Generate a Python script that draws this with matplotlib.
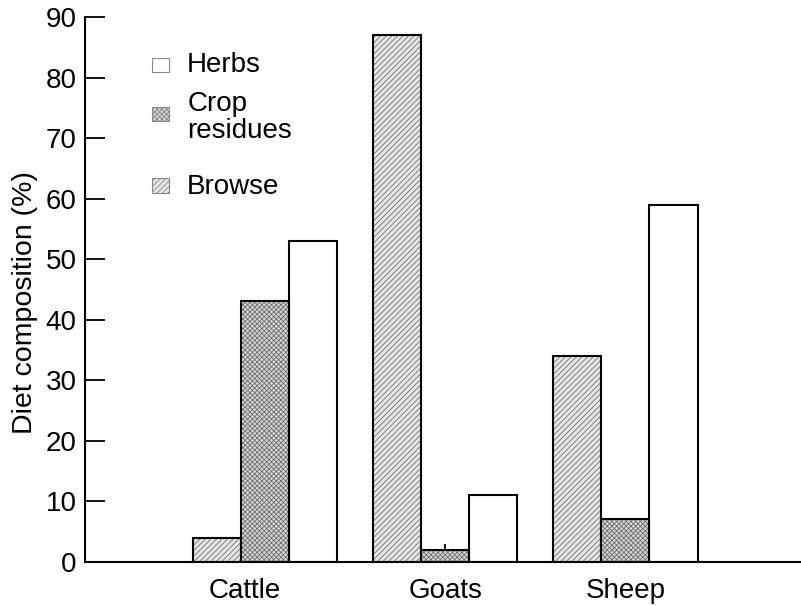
import matplotlib
matplotlib.use("Agg")
import matplotlib.pyplot as plt
import numpy as np
from matplotlib.patches import Rectangle
from matplotlib.transforms import ScaledTranslation

plt.rcParams["font.family"] = ["Liberation Sans", "DejaVu Sans"]
plt.rcParams["hatch.linewidth"] = 0.6
plt.rcParams["hatch.color"] = "#707070"

animals = ["Cattle", "Goats", "Sheep"]
browse = [4, 87, 34]
crop_residues = [43, 2, 7]
herbs = [53, 11, 59]
y_ticks = [0, 10, 20, 30, 40, 50, 60, 70, 80, 90]

fig = plt.figure(figsize=(8.01, 6.06), dpi=100)
ax = fig.add_axes([0.106, 0.073, 0.893, 0.899])

x = np.arange(1, len(animals) + 1)
w = 0.267

styles = {
    "Browse": dict(facecolor="#e6e6e6", hatch="//////"),
    "Crop residues": dict(facecolor="#d6d6d6", hatch="xxxxxxx"),
    "Herbs": dict(facecolor="white", hatch=None),
}

for offset, vals, name in [(-w, browse, "Browse"), (0, crop_residues, "Crop residues"), (w, herbs, "Herbs")]:
    st = styles[name]
    ax.bar(x + offset, vals, width=w, facecolor=st["facecolor"],
           hatch=st["hatch"], edgecolor="#707070", linewidth=0, zorder=2)
    # black outline drawn on top of the hatched fill
    ax.bar(x + offset, vals, width=w, facecolor="none", edgecolor="black",
           linewidth=1.5, zorder=3)

ax.set_xlim(0, 3.97)
ax.set_ylim(0, 90)
ax.set_yticks(y_ticks)
ax.set_xticks(x)
ax.set_xticklabels(animals)
ax.tick_params(axis="both", direction="in", labelsize=20, width=1.3, colors="black")
ax.tick_params(axis="y", length=14.5, pad=6)
ax.tick_params(axis="x", length=13, pad=12)
for side in ("top", "right"):
    ax.spines[side].set_visible(False)
for side in ("left", "bottom"):
    ax.spines[side].set_linewidth(1.5)
    ax.spines[side].set_zorder(4)
ax.set_ylabel("Diet composition (%)", fontsize=20.5)
ax.yaxis.set_label_coords(-0.066, 0.475)

# the "Cattle" label sits a little left of its tick
first = ax.get_xticklabels()[0]
first.set_transform(first.get_transform() + ScaledTranslation(-0.2, 0, fig.dpi_scale_trans))

# hand-built legend
leg = [("Herbs", 0.912, 0.912, "Herbs"),
       ("Crop residues", 0.822, 0.815, "Crop\nresidues"),
       ("Browse", 0.690, 0.688, "Browse")]
for key, py, ty, label in leg:
    st = styles[key]
    ax.add_patch(Rectangle((0.094, py - 0.0135), 0.024, 0.027, transform=ax.transAxes,
                           facecolor=st["facecolor"], hatch=st["hatch"],
                           edgecolor="#888888", linewidth=0.8, clip_on=False))
    ax.text(0.143, ty, label, transform=ax.transAxes, fontsize=20,
            va="center", ha="left", linespacing=1.05)

fig.savefig("out.png", dpi=100)
